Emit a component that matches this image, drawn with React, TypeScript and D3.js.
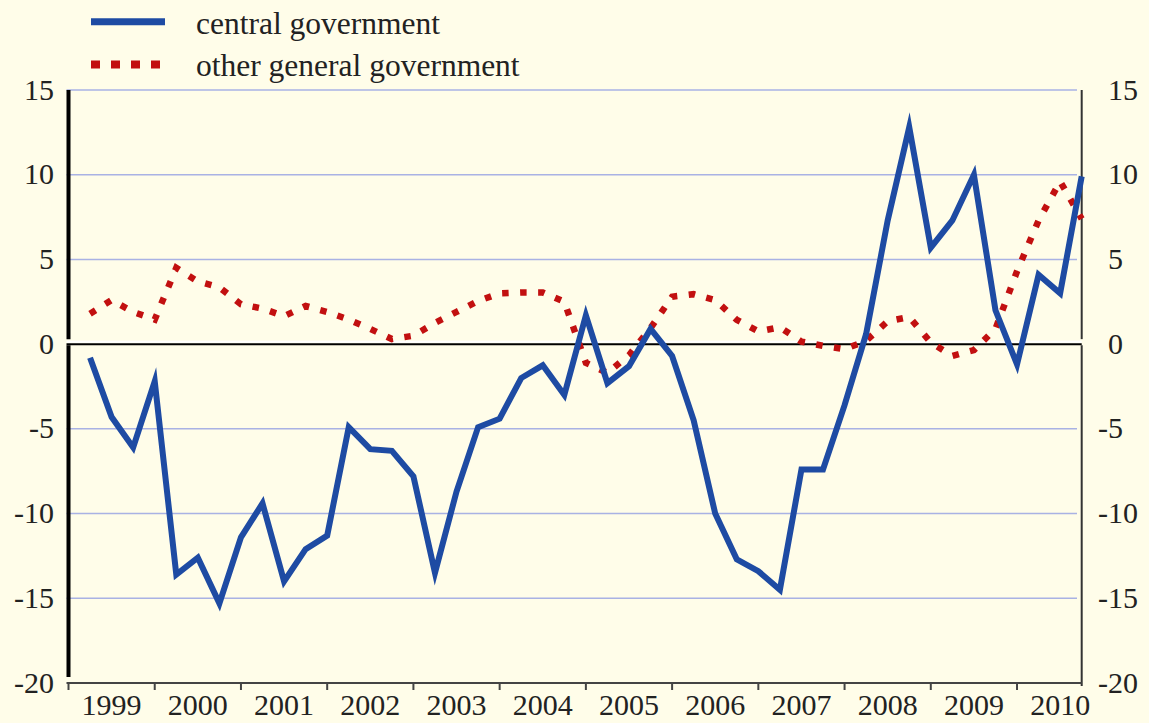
import * as d3 from "d3";

const years = ["1999", "2000", "2001", "2002", "2003", "2004", "2005", "2006", "2007", "2008", "2009", "2010"];

// quarterly observations, 1999Q1 .. 2010Q3
const quarters = years.flatMap(y => ["Q1", "Q2", "Q3", "Q4"].map(q => y + q)).slice(0, 47);

const central = [
  -0.8, -4.3, -6.1, -2.2,
  -13.6, -12.6, -15.3, -11.4,
  -9.4, -14.0, -12.1, -11.3,
  -4.9, -6.2, -6.3, -7.8,
  -13.5, -8.7, -4.9, -4.4,
  -2.0, -1.25, -3.0, 1.7,
  -2.3, -1.3, 0.9, -0.7,
  -4.5, -10.0, -12.7, -13.4,
  -14.5, -7.4, -7.4, -3.6,
  0.6, 7.3, 12.8, 5.7,
  7.3, 10.0, 2.0, -1.2,
  4.1, 3.0, 9.9
];

const otherGeneral = [
  1.8, 2.6, 1.9, 1.45,
  4.5, 3.7, 3.35, 2.35,
  2.1, 1.65, 2.25, 1.9,
  1.45, 0.9, 0.3, 0.5,
  1.25, 1.9, 2.55, 3.0,
  3.05, 3.05, 2.5, -1.1,
  -1.7, -0.65, 0.95, 2.8,
  2.95, 2.6, 1.43, 0.75,
  1.0, 0.15, -0.1, -0.3,
  0.2, 1.35, 1.6, 0.1,
  -0.7, -0.35, 0.9, 4.3,
  7.3, 9.6, 7.4
];

const yTicks = [15, 10, 5, 0, -5, -10, -15, -20];

const legendItems = ["central government", "other general government"];

const W = 1149;
const H = 723;
const BG = "#FFFDE9";
const BLUE = "#1E4BA3";
const RED = "#C21010";
const GRID = "#A9B2E4";
const FONT = "'Liberation Serif', 'Times New Roman', serif";

export default function App() {
  const x = d3.scaleLinear().domain([1999, 2010.75]).range([68.5, 1081.7]);
  const y = d3.scaleLinear().domain([-20, 15]).range([683, 90]);

  // point i sits at the end of its quarter
  const tq = (i: number) => 1999 + (i + 1) / 4;

  const line = d3
    .line<number>()
    .x((_, i) => x(tq(i)))
    .y(d => y(d));

  const x0 = x(1999);
  const x1 = x(2010.75);
  const yZero = y(0);

  return (
    <svg
      width={W}
      height={H}
      style={{ position: "absolute", left: 0, top: 0, background: BG }}
      fontFamily={FONT}
    >
      <rect width={W} height={H} fill={BG} />

      {/* legend */}
      <g>
        <line x1={91} x2={165} y1={21.7} y2={21.7} stroke={BLUE} strokeWidth={7} />
        <line x1={91} x2={160} y1={64.5} y2={64.5} stroke={RED} strokeWidth={8} strokeDasharray="9 11" />
        <text x={196} y={33.5} fontSize={31.5} fill="#222">{legendItems[0]}</text>
        <text x={196} y={76} fontSize={31.5} fill="#222">{legendItems[1]}</text>
      </g>

      {/* grid */}
      {yTicks.filter(t => t !== 0 && t !== -20).map(t => (
        <line key={t} x1={x0 - 2} x2={1077} y1={y(t)} y2={y(t)} stroke={GRID} strokeWidth={1.5} />
      ))}

      {/* y labels */}
      {yTicks.map(t => (
        <g key={"l" + t} fontSize={30} fill="#222">
          <text x={54} y={y(t)} dy="0.32em" textAnchor="end">{t}</text>
          <text x={t < 0 ? 1098 : 1108} y={y(t)} dy="0.32em" textAnchor="start">{t}</text>
        </g>
      ))}

      {/* left axis with a gap above zero line */}
      <line x1={x0} x2={x0} y1={90} y2={yZero - 5} stroke="#000" strokeWidth={4} />
      <line x1={x0} x2={x0} y1={yZero + 1} y2={677} stroke="#000" strokeWidth={4} />
      {/* right axis */}
      <line x1={x1} x2={x1} y1={90} y2={yZero - 5} stroke="#333" strokeWidth={2} />
      <line x1={x1} x2={x1} y1={yZero + 1} y2={686} stroke="#333" strokeWidth={2} />

      {/* zero line */}
      <line x1={x0 - 2} x2={x1} y1={yZero - 2.5} y2={yZero - 2.5} stroke="#fff" strokeWidth={2} />
      <line x1={x0 - 2} x2={x1} y1={yZero} y2={yZero} stroke="#000" strokeWidth={2} />

      {/* bottom axis */}
      <line x1={x0 - 2} x2={x1} y1={683} y2={683} stroke="#444" strokeWidth={2} />
      {years.map(yr => (
        <line key={"t" + yr} x1={x(+yr)} x2={x(+yr)} y1={683} y2={690} stroke="#444" strokeWidth={2} />
      ))}
      {years.map(yr => (
        <text key={"x" + yr} x={x(+yr + 0.5)} y={715} fontSize={30} textAnchor="middle" fill="#222">
          {yr}
        </text>
      ))}

      {/* series */}
      <path
        d={line(otherGeneral) || undefined}
        fill="none"
        stroke={RED}
        strokeWidth={6.5}
        strokeDasharray="6.5 11.5"
      />
      <path
        d={line(central) || undefined}
        fill="none"
        stroke={BLUE}
        strokeWidth={6}
        strokeLinejoin="miter"
        strokeMiterlimit={10}
      />
      <desc>{quarters.length} quarterly points</desc>
    </svg>
  );
}
